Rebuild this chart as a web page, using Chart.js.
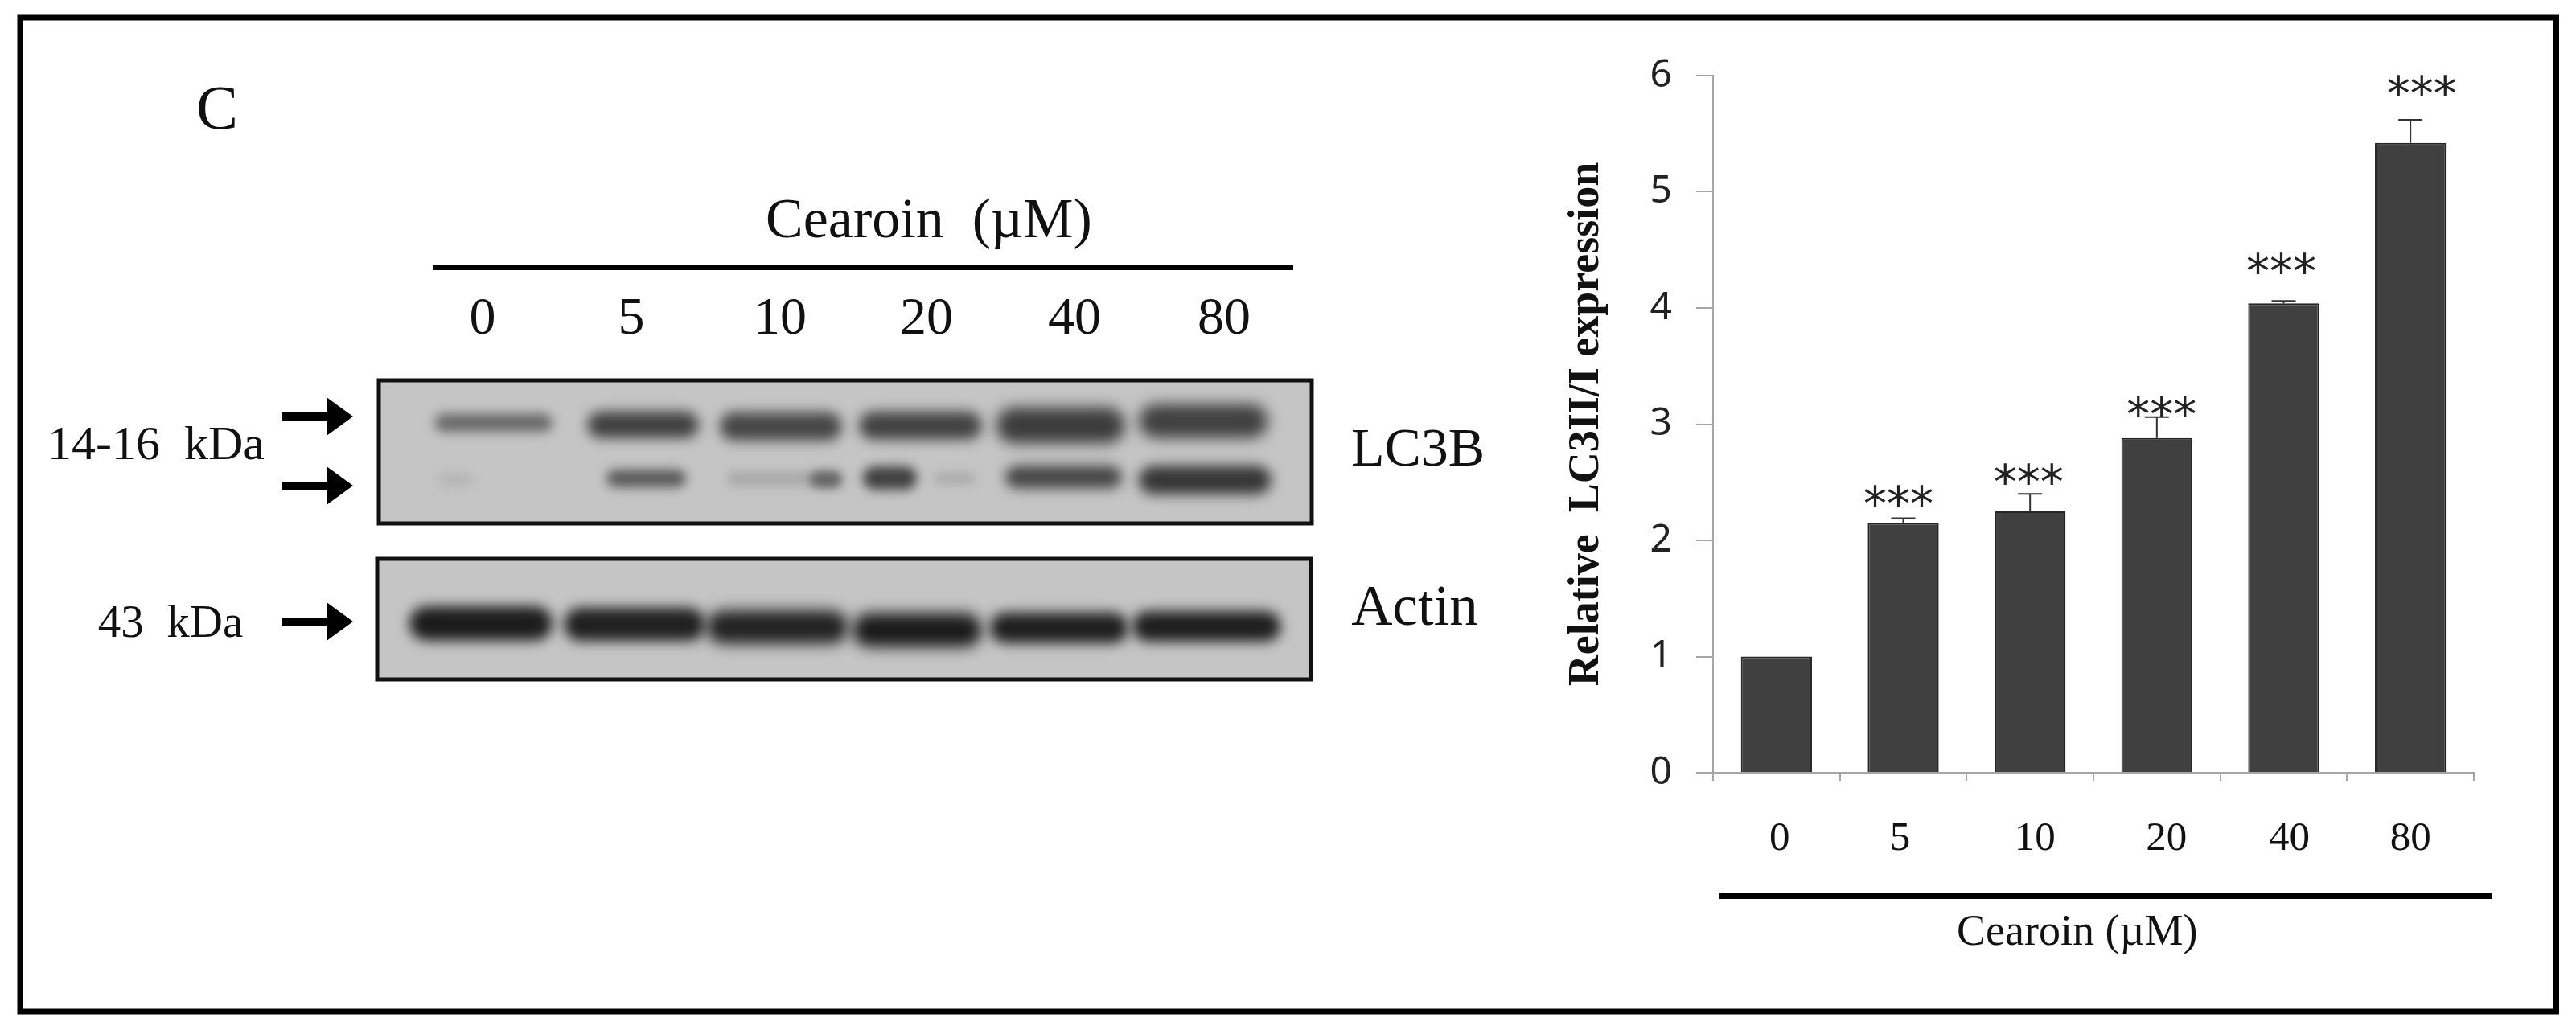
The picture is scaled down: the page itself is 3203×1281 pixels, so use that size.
<!DOCTYPE html>
<html><head><meta charset="utf-8">
<style>
html,body{margin:0;padding:0;background:#fff;width:3203px;height:1281px;overflow:hidden}
canvas{position:absolute;left:0;top:0}
.t{position:absolute;font-family:"Liberation Serif",serif;color:#111;white-space:pre;transform:translate(-50%,-50%);line-height:1}
</style>
<script src="https://cdn.jsdelivr.net/npm/chart.js@4"></script>
</head><body>
<canvas id="blot" width="3203" height="1281"></canvas>
<canvas id="chart" width="3203" height="1281"></canvas>
<div id="notes"></div>
<script>
const categories = ['0','5','10','20','40','80'];
const means = [1.0,2.15,2.25,2.88,4.04,5.42];
const errorTops = [1.0,2.19,2.40,3.06,4.06,5.62];
const starLevels = [null,2.35,2.54,3.12,4.35,5.88];
const yTicks = [0,1,2,3,4,5,6];
const yTitle = 'Relative  LC3II/I expression';
const xTitle = 'Cearoin (µM)';

// chart placement
const PLOT = {left:2130,right:3076,top:94,bottom:961};
const PAD_LEFT = 1941, PAD_BOTTOM = 88;
const tickNudge = [4,-4,6,12,7,0];
const starNudge = [0,-6,-2,6,-3,14];

const errorBars = {
  id:'errorBars',
  afterDatasetsDraw(c){
    const {ctx,scales:{x,y}} = c;
    ctx.save();ctx.strokeStyle='#333';ctx.lineWidth=2;
    errorTops.forEach((t,i)=>{
      if(t<=means[i]) return;
      const px=x.getPixelForValue(i), a=y.getPixelForValue(means[i]), b=y.getPixelForValue(t);
      ctx.beginPath();ctx.moveTo(px,a);ctx.lineTo(px,b);ctx.moveTo(px-15,b);ctx.lineTo(px+15,b);ctx.stroke();
    });
    ctx.fillStyle='#222';ctx.font='58px "DejaVu Sans"';ctx.textAlign='center';ctx.textBaseline='alphabetic';
    starLevels.forEach((s,i)=>{
      if(s===null) return;
      ctx.fillText('***',x.getPixelForValue(i)+starNudge[i],y.getPixelForValue(s)+26);
    });
    ctx.restore();
  },
  beforeDraw(c){
    const x=c.scales.x;
    x.getLabelItems().forEach((it,i)=>{it.options.translation[0]=x.getPixelForTick(i)+tickNudge[i];});
  }
};
const xBar = {
  id:'xBar',
  afterDraw(c){
    const ctx=c.ctx;ctx.save();ctx.fillStyle='#000';ctx.fillRect(2138,1111,961,7);ctx.restore();
  }
};

new Chart(document.getElementById('chart'),{
  type:'bar',
  data:{labels:categories,datasets:[{label:'Relative LC3II/I expression',data:means,
    backgroundColor:'#404040',borderColor:'#262626',borderWidth:2,barPercentage:0.56,categoryPercentage:1}]},
  plugins:[errorBars,xBar],
  options:{
    responsive:false,animation:false,
    layout:{padding:{left:PAD_LEFT,right:3203-PLOT.right,top:PLOT.top,bottom:PAD_BOTTOM}},
    plugins:{legend:{display:false},tooltip:{enabled:false},title:{display:false}},
    scales:{
      x:{
        afterFit(s){s.height=1281-PLOT.bottom-PAD_BOTTOM;},
        grid:{display:true,drawOnChartArea:false,offset:true,color:'#a6a6a6',lineWidth:2,tickLength:10},
        border:{color:'#a6a6a6',width:2},
        ticks:{color:'#111',font:{family:'"Liberation Serif"',size:51},padding:42,maxRotation:0},
        title:{display:true,text:xTitle+'   ',color:'#111',font:{family:'"Liberation Serif"',size:54},padding:{top:0,bottom:0}}
      },
      y:{
        min:0,max:6,
        afterFit(s){s.width=PLOT.left-PAD_LEFT;},
        afterBuildTicks(s){s.ticks=yTicks.map(v=>({value:v}));},
        grid:{display:true,drawOnChartArea:false,color:'#a6a6a6',lineWidth:2,tickLength:21},
        border:{color:'#a6a6a6',width:2},
        ticks:{color:'#222',font:{family:'"Noto Sans"',size:48},padding:30},
        title:{display:true,text:yTitle,color:'#111',font:{family:'"Liberation Serif"',size:54,weight:'bold'},padding:{top:0,bottom:0}}
      }
    }
  }
});

// left panel: western blot picture (not data)
const g=document.getElementById('blot').getContext('2d');
g.fillStyle='#fff';g.fillRect(0,0,3203,1281);
g.strokeStyle='#000';g.lineWidth=7;g.strokeRect(25,22,3153.5,1236);
function zx(v){return 420+v/1.2645;} function zy(v){return 450+v/3;}
function panel(x0,y0,x1,y1,bands){
  g.save();
  g.beginPath();g.rect(x0,y0,x1-x0,y1-y0);g.clip();
  g.fillStyle='#c5c5c5';g.fillRect(x0,y0,x1-x0,y1-y0);
  bands.forEach(([a,b,c,d,col,bl])=>{
    g.filter='blur('+(bl||8)+'px)';g.fillStyle=col;
    const X=zx(a)-2,Y=zy(c)-4,W=zx(b)-zx(a)+4,H=zy(d)-zy(c)+8;
    g.beginPath();g.roundRect(X,Y,W,H,Math.min(W,H)/2);g.fill();
  });
  g.restore();g.filter='none';
  g.strokeStyle='#111';g.lineWidth=5;g.strokeRect(x0,y0,x1-x0,y1-y0);
}
panel(471,473,1631,651,[
 [155,335,205,250,'#6a6a6a',7],[395,565,198,272,'#404040',8],[603,790,200,282,'#464646',8],
 [822,1010,198,278,'#424242',8],[1038,1235,182,292,'#3c3c3c',9],[1262,1460,170,272,'#404040',9],
 [160,210,428,452,'#b4b4b4',7],[425,545,415,455,'#585858',7],[615,790,425,448,'#a4a4a4',7],[745,790,420,458,'#666',6],
 [828,908,402,465,'#404040',7],[940,1000,425,445,'#ababab',6],[1052,1230,400,460,'#444',8],[1262,1465,400,482,'#363636',8]
]);
panel(469,695,1630,845,[
 [115,335,925,1028,'#1c1c1c',8],[358,575,930,1030,'#202020',8],[582,800,940,1040,'#222',9],
 [812,1010,950,1052,'#1a1a1a',9],[1028,1240,948,1038,'#1f1f1f',8],[1252,1480,943,1032,'#1e1e1e',8]
]);
function arrow(cy){
  g.fillStyle='#000';g.beginPath();
  g.moveTo(351,cy-5);g.lineTo(406,cy-5);g.lineTo(406,cy-24);g.lineTo(439,cy);g.lineTo(406,cy+24);g.lineTo(406,cy+5);g.lineTo(351,cy+5);
  g.closePath();g.fill();
}
[518,604,773].forEach(arrow);
g.fillStyle='#000';g.fillRect(539,329,1069,7);

const notes=[
 ['C',270,134,78],['Cearoin  (µM)',1155,272,70],
 ['0',600,393,66],['5',785,393,66],['10',970,393,66],['20',1152,393,66],['40',1336,393,66],['80',1522,393,66],
 ['14-16  kDa',194,551,60],['43  kDa',212,772,57],['LC3B',1763,556,68],['Actin',1759,753,71]
];
const host=document.getElementById('notes');
notes.forEach(([s,x,y,f])=>{const d=document.createElement('div');d.className='t';d.textContent=s;
 d.style.left=x+'px';d.style.top=y+'px';d.style.fontSize=f+'px';host.appendChild(d);});
</script>
</body></html>
